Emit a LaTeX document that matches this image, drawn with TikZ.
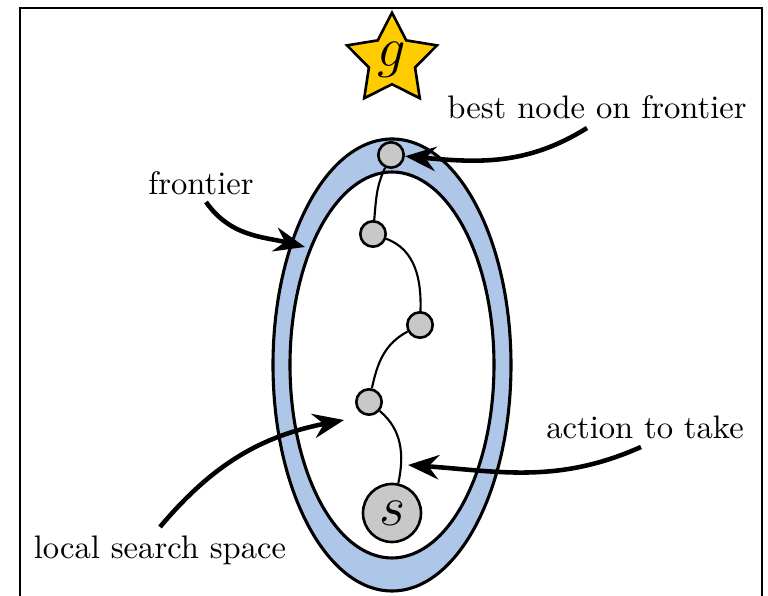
\documentclass[tikz,border=0pt]{standalone}
\usetikzlibrary{arrows.meta,shapes.geometric}
\definecolor{bandblue}{RGB}{174,198,232}
\definecolor{nodegray}{RGB}{200,200,200}
\definecolor{stargold}{RGB}{255,204,0}
\begin{document}
\begin{tikzpicture}[x=0.3067pt,y=0.3067pt,
  bandline/.style={draw=black,line width=0.95pt},
  gnode/.style={circle,draw=black,fill=nodegray,line width=0.8pt,inner sep=0pt,minimum size=7.8pt},
  snodestyle/.style={circle,draw=black,fill=nodegray,line width=0.8pt,inner sep=0pt,minimum size=17.8pt,font=\LARGE},
  goalstar/.style={star,star points=5,star point ratio=1.95,draw=black,fill=stargold,line width=0.8pt,minimum size=29pt,inner sep=0pt},
  link/.style={draw=black,line width=0.65pt},
  callout/.style={draw=black,line width=1.4pt,-{Stealth[length=9.5pt,width=7.5pt,inset=3.2pt]}},
  lbl/.style={inner sep=0pt,font=\normalsize}]
\useasboundingbox (0,0) rectangle (768,596);
\draw[line width=0.45pt] (20,588) rectangle (762,-40);
\draw[bandline,fill=bandblue] (392,231) ellipse [x radius=119, y radius=226];
\draw[bandline,fill=white] (392,231) ellipse [x radius=102, y radius=193];
\node[goalstar] (goal) at (392,536) {};
\node[font=\LARGE] (glabel) at (392,536) {$g$};
\node[gnode] (n1) at (391,441) {};
\node[gnode] (n2) at (373,362) {};
\node[gnode] (n3) at (420,271) {};
\node[gnode] (n4) at (369,194) {};
\node[snodestyle] (s) at (392,83) {$s$};
\draw[link] (n1) to[out=-115,in=85] (n2);
\draw[link] (n2) to[out=-20,in=88] (n3);
\draw[link] (n3) to[out=-152,in=78] (n4);
\draw[link] (n4) to[out=-40,in=78] (s);
\node[lbl] (tbest) at (597,489) {best node on frontier};
\node[lbl] (tfront) at (201,413) {frontier};
\node[lbl] (tlocal) at (160,46) {local search space};
\node[lbl] (taction) at (645,169) {action to take};
\coordinate (bestfrom) at (587,468);
\coordinate (frontfrom) at (206,394);
\coordinate (frontto) at (305,349);
\coordinate (localfrom) at (160,69);
\coordinate (localto) at (344,176);
\coordinate (actfrom) at (641,149);
\coordinate (actto) at (408,131);
\draw[callout] (bestfrom) to[out=212,in=-5] (n1);
\draw[callout] (frontfrom) to[out=-55,in=166] (frontto);
\draw[callout] (localfrom) to[out=50,in=191] (localto);
\draw[callout] (actfrom) to[out=204,in=-4] (actto);
\end{tikzpicture}
\end{document}
